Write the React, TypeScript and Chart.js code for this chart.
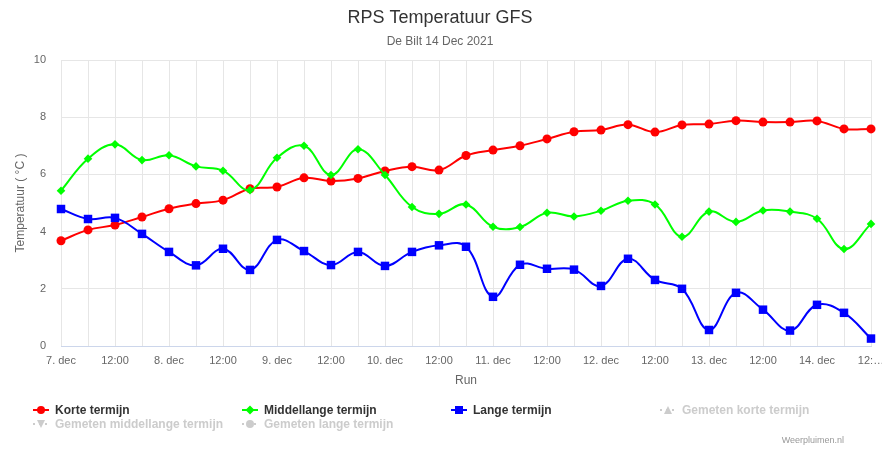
import React, { useEffect, useRef } from "react";
import { Chart, registerables } from "chart.js";

Chart.register(...registerables);

const FONT = '"Liberation Sans", Arial, Helvetica, sans-serif';

// Model runs (every 6 hours)
const runs = [
  "7 dec 00:00", "7 dec 06:00", "7 dec 12:00", "7 dec 18:00",
  "8 dec 00:00", "8 dec 06:00", "8 dec 12:00", "8 dec 18:00",
  "9 dec 00:00", "9 dec 06:00", "9 dec 12:00", "9 dec 18:00",
  "10 dec 00:00", "10 dec 06:00", "10 dec 12:00", "10 dec 18:00",
  "11 dec 00:00", "11 dec 06:00", "11 dec 12:00", "11 dec 18:00",
  "12 dec 00:00", "12 dec 06:00", "12 dec 12:00", "12 dec 18:00",
  "13 dec 00:00", "13 dec 06:00", "13 dec 12:00", "13 dec 18:00",
  "14 dec 00:00", "14 dec 06:00", "14 dec 12:00",
];

const tickLabels = [
  "7. dec", "", "12:00", "",
  "8. dec", "", "12:00", "",
  "9. dec", "", "12:00", "",
  "10. dec", "", "12:00", "",
  "11. dec", "", "12:00", "",
  "12. dec", "", "12:00", "",
  "13. dec", "", "12:00", "",
  "14. dec", "", "12:…",
];

const korteTermijn = [
  3.68, 4.06, 4.23, 4.51, 4.8, 4.98, 5.1, 5.5, 5.56, 5.88, 5.77,
  5.86, 6.12, 6.27, 6.15, 6.66, 6.85, 7.0, 7.24, 7.49, 7.55,
  7.74, 7.48, 7.73, 7.76, 7.88, 7.83, 7.83, 7.87, 7.59, 7.59,
];

const middellangeTermijn = [
  5.43, 6.55, 7.05, 6.5, 6.67, 6.28, 6.13, 5.45, 6.58, 7.0, 5.98,
  6.88, 5.98, 4.86, 4.62, 4.95, 4.17, 4.16, 4.66, 4.53, 4.73,
  5.08, 4.95, 3.82, 4.7, 4.34, 4.74, 4.7, 4.45, 3.39, 4.27,
];

const langeTermijn = [
  4.79, 4.44, 4.48, 3.92, 3.29, 2.82, 3.4, 2.66, 3.71, 3.32, 2.83,
  3.29, 2.8, 3.29, 3.52, 3.47, 1.72, 2.84, 2.7, 2.67, 2.1,
  3.05, 2.31, 2.0, 0.56, 1.86, 1.27, 0.54, 1.44, 1.16, 0.26,
];

const gemetenKorte: number[] = [];
const gemetenMiddellange: number[] = [];
const gemetenLange: number[] = [];

const yTicks = [0, 2, 4, 6, 8, 10];

type Series = {
  name: string;
  data: number[];
  color: string;
  marker: "circle" | "diamond" | "square" | "triangle" | "triangle-down";
  hidden: boolean;
};

const series: Series[] = [
  { name: "Korte termijn", data: korteTermijn, color: "#ff0000", marker: "circle", hidden: false },
  { name: "Middellange termijn", data: middellangeTermijn, color: "#00ff00", marker: "diamond", hidden: false },
  { name: "Lange termijn", data: langeTermijn, color: "#0000ff", marker: "square", hidden: false },
  { name: "Gemeten korte termijn", data: gemetenKorte, color: "#cccccc", marker: "triangle", hidden: true },
  { name: "Gemeten middellange termijn", data: gemetenMiddellange, color: "#cccccc", marker: "triangle-down", hidden: true },
  { name: "Gemeten lange termijn", data: gemetenLange, color: "#cccccc", marker: "circle", hidden: true },
];

const legendPos = [
  { left: 33, top: 410 },
  { left: 242, top: 410 },
  { left: 451, top: 410 },
  { left: 660, top: 410 },
  { left: 33, top: 424 },
  { left: 242, top: 424 },
];

const chartStyle: Record<string, any> = {
  circle: { pointStyle: "circle", pointRadius: 4.5 },
  diamond: { pointStyle: "rectRot", pointRadius: 4.3 },
  square: { pointStyle: "rect", pointRadius: 6 },
  triangle: { pointStyle: "triangle", pointRadius: 4.5 },
  "triangle-down": { pointStyle: "triangle", pointRadius: 4.5, pointRotation: 180 },
};

function LegendIcon({ s }: { s: Series }) {
  const c = s.color;
  let marker: React.ReactNode = null;
  if (s.marker === "circle") marker = <circle cx={8} cy={6} r={4} fill={c} />;
  if (s.marker === "diamond") marker = <polygon points="8,1.5 12.5,6 8,10.5 3.5,6" fill={c} />;
  if (s.marker === "square") marker = <rect x={4} y={2} width={8} height={8} fill={c} />;
  if (s.marker === "triangle") marker = <polygon points="8,2 12,10 4,10" fill={c} />;
  if (s.marker === "triangle-down") marker = <polygon points="4,2 12,2 8,10" fill={c} />;
  return (
    <svg width={16} height={12} style={{ position: "absolute", left: 0, top: 2 }}>
      <line
        x1={0}
        y1={6}
        x2={16}
        y2={6}
        stroke={c}
        strokeWidth={2}
        strokeDasharray={s.hidden ? "2,4" : undefined}
      />
      {marker}
    </svg>
  );
}

export default function App() {
  const canvasRef = useRef<HTMLCanvasElement | null>(null);

  useEffect(() => {
    const canvas = canvasRef.current;
    if (!canvas) return;
    Chart.defaults.font.family = FONT;
    const orders = [3, 2, 1, 0, 0, 0];
    const chart = new Chart(canvas, {
      type: "line",
      data: {
        labels: runs,
        datasets: series.map((s, i) => ({
          label: s.name,
          data: s.data,
          borderColor: s.color,
          backgroundColor: s.color,
          pointBackgroundColor: s.color,
          pointBorderWidth: 0,
          pointHoverRadius: chartStyle[s.marker].pointRadius,
          borderWidth: 2,
          tension: 0.4,
          fill: false,
          clip: false as any,
          hidden: s.hidden,
          order: orders[i],
          ...chartStyle[s.marker],
        })),
      },
      options: {
        animation: false,
        responsive: false,
        maintainAspectRatio: false,
        events: [],
        layout: { padding: { left: 9, right: 11, top: 0, bottom: 58 } },
        plugins: {
          legend: { display: false },
          tooltip: { enabled: false },
          title: {
            display: true,
            text: "RPS Temperatuur GFS",
            color: "#333333",
            font: { family: FONT, size: 18, weight: "normal" },
            padding: { top: 7, bottom: 0 },
          },
          subtitle: {
            display: true,
            text: "De Bilt 14 Dec 2021",
            color: "#666666",
            font: { family: FONT, size: 12, weight: "normal" },
            padding: { top: 6, bottom: 11 },
          },
        },
        scales: {
          x: {
            type: "category",
            offset: false,
            grid: { color: "#e6e6e6", drawTicks: false, lineWidth: 1 },
            border: { color: "#ccd6eb", width: 1 },
            ticks: {
              autoSkip: false,
              maxRotation: 0,
              minRotation: 0,
              padding: 8,
              color: "#666666",
              font: { family: FONT, size: 11 },
              callback: (_v: any, i: number) => tickLabels[i],
            },
            title: {
              display: true,
              text: "Run",
              color: "#666666",
              font: { family: FONT, size: 12 },
              padding: { top: 4, bottom: 4 },
            },
            afterFit: (scale: any) => {
              scale.height = 46;
              scale.paddingLeft = 0;
              scale.paddingRight = 0;
            },
          },
          y: {
            min: 0,
            max: 10,
            afterBuildTicks: (scale: any) => {
              scale.ticks = yTicks.map((v) => ({ value: v }));
            },
            grid: { color: "#e6e6e6", drawTicks: false, lineWidth: 1 },
            border: { display: false },
            ticks: {
              padding: 15,
              color: "#666666",
              font: { family: FONT, size: 11 },
            },
            title: {
              display: true,
              text: "Temperatuur ( °C )",
              color: "#666666",
              font: { family: FONT, size: 12 },
              padding: { top: 4, bottom: 4 },
            },
            afterFit: (scale: any) => {
              scale.width = 52;
            },
          },
        },
      },
    });
    return () => chart.destroy();
  }, []);

  return (
    <div
      style={{
        position: "fixed",
        left: 0,
        top: 0,
        width: 882,
        height: 450,
        background: "#ffffff",
        fontFamily: FONT,
      }}
    >
      <canvas ref={canvasRef} width={882} height={450} style={{ display: "block", width: 882, height: 450 }} />
      {series.map((s, i) => (
        <div
          key={s.name}
          style={{
            position: "absolute",
            left: legendPos[i].left,
            top: legendPos[i].top - 8,
            height: 16,
            whiteSpace: "nowrap",
          }}
        >
          <LegendIcon s={s} />
          <span
            style={{
              position: "absolute",
              left: 22,
              top: 0,
              lineHeight: "16px",
              fontSize: 12,
              fontWeight: "bold",
              color: s.hidden ? "#cccccc" : "#333333",
            }}
          >
            {s.name}
          </span>
        </div>
      ))}
      <div
        style={{
          position: "absolute",
          right: 882 - 844,
          top: 434,
          fontSize: 9,
          lineHeight: "13px",
          color: "#999999",
          whiteSpace: "nowrap",
        }}
      >
        Weerpluimen.nl
      </div>
    </div>
  );
}
